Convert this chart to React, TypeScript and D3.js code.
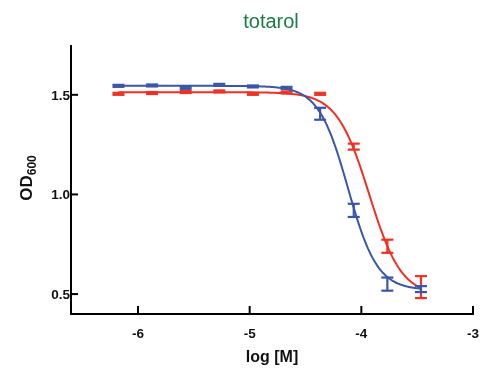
import React, { useEffect, useRef } from 'react';
import * as d3 from 'd3';

// log10 concentration (M), 2-fold dilutions
const logConc = [-6.175, -5.874, -5.573, -5.272, -4.971, -4.670, -4.369, -4.068, -3.767, -3.466];

const blueMean = [1.545, 1.547, 1.535, 1.55, 1.542, 1.535, 1.405, 0.92, 0.55, 0.525];
const blueErr = [0.005, 0.005, 0.005, 0.005, 0.005, 0.005, 0.03, 0.033, 0.033, 0.015];
const redMean = [1.505, 1.509, 1.514, 1.517, 1.505, 1.512, 1.505, 1.24, 0.74, 0.535];
const redErr = [0.005, 0.005, 0.005, 0.005, 0.005, 0.005, 0.005, 0.015, 0.033, 0.055];

// four-parameter logistic fits: [bottom, top, logIC50, hill]
const blueFit = [0.52, 1.545, -4.12, 3.3];
const redFit = [0.49, 1.513, -3.93, 3.0];

const xTicks = [-6, -5, -4, -3];
const yTicks = [0.5, 1.0, 1.5];

const App = () => {
    const ref = useRef(null);

    useEffect(() => {
        const width = 488, height = 373;
        const svg = d3.select(ref.current);
        svg.selectAll('*').remove();
        svg.attr('width', width).attr('height', height);

        const x = d3.scaleLinear().domain([-6.6, -3]).range([71, 473]);
        const y = d3.scaleLinear().domain([0.4, 1.75]).range([314, 45]);
        const font = 'Arial, "Liberation Sans", sans-serif';

        const hill = (f, lx) => f[0] + (f[1] - f[0]) / (1 + Math.pow(10, (lx - f[2]) * f[3]));

        const drawSeries = (mean, err, fit, color) => {
            const lo = logConc[0], hi = logConc[logConc.length - 1];
            const pts = d3.range(0, 201).map(i => lo + (hi - lo) * i / 200);
            svg.append('path')
                .attr('d', d3.line().x(d => x(d)).y(d => y(hill(fit, d)))(pts))
                .attr('fill', 'none')
                .attr('stroke', color)
                .attr('stroke-width', 2);
            const g = svg.append('g').attr('stroke', color).attr('stroke-width', 2.2);
            logConc.forEach((lx, i) => {
                const cx = x(lx), y1 = y(mean[i] - err[i]), y2 = y(mean[i] + err[i]);
                g.append('line').attr('x1', cx).attr('x2', cx).attr('y1', y1).attr('y2', y2);
                g.append('line').attr('x1', cx - 6).attr('x2', cx + 6).attr('y1', y1).attr('y2', y1);
                g.append('line').attr('x1', cx - 6).attr('x2', cx + 6).attr('y1', y2).attr('y2', y2);
            });
        };

        drawSeries(redMean, redErr, redFit, '#ee3124');
        drawSeries(blueMean, blueErr, blueFit, '#3a56a8');

        // axes
        const axes = svg.append('g').attr('stroke', '#000').attr('stroke-width', 2);
        axes.append('line').attr('x1', x(-6.6)).attr('x2', x(-6.6)).attr('y1', y(1.75)).attr('y2', y(0.4) + 1);
        axes.append('line').attr('x1', x(-6.6) - 1).attr('x2', x(-3) + 1).attr('y1', y(0.4)).attr('y2', y(0.4));
        yTicks.forEach(t => {
            axes.append('line').attr('x1', x(-6.6)).attr('x2', x(-6.6) + 7).attr('y1', y(t)).attr('y2', y(t));
            svg.append('text').attr('x', x(-6.6) - 1).attr('y', y(t)).attr('dy', '0.36em')
                .attr('text-anchor', 'end').attr('font-family', font).attr('font-weight', 'bold')
                .attr('font-size', 13.5).attr('fill', '#111').text(d3.format('.1f')(t));
        });
        xTicks.forEach(t => {
            axes.append('line').attr('x1', x(t)).attr('x2', x(t)).attr('y1', y(0.4)).attr('y2', y(0.4) - 8);
            svg.append('text').attr('x', x(t)).attr('y', 338)
                .attr('text-anchor', 'middle').attr('font-family', font).attr('font-weight', 'bold')
                .attr('font-size', 13.5).attr('fill', '#111').text(String(t));
        });

        svg.append('text').attr('x', 272).attr('y', 362).attr('text-anchor', 'middle')
            .attr('font-family', font).attr('font-weight', 'bold').attr('font-size', 16)
            .attr('fill', '#111').text('log [M]');

        const yl = svg.append('text').attr('transform', 'translate(32,178) rotate(-90)')
            .attr('text-anchor', 'middle').attr('font-family', font).attr('font-weight', 'bold')
            .attr('font-size', 17).attr('fill', '#111');
        yl.append('tspan').text('OD');
        yl.append('tspan').attr('font-size', 12).attr('dy', 4).text('600');

        svg.append('text').attr('x', 271).attr('y', 28).attr('text-anchor', 'middle')
            .attr('font-family', font).attr('font-size', 20).attr('fill', '#1b7a46').text('totarol');
    }, []);

    return (
        <div style={{ position: 'fixed', left: 0, top: 0 }}>
            <svg ref={ref} style={{ display: 'block' }} />
        </div>
    );
};

export default App;
